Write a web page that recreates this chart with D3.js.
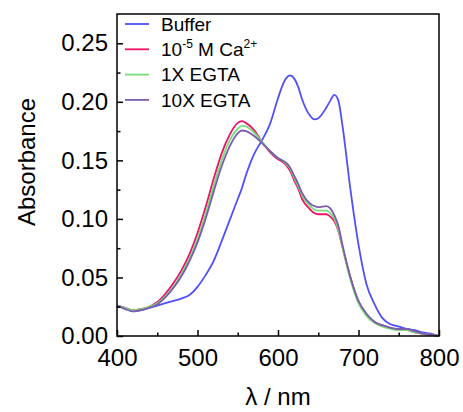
<!DOCTYPE html>
<html>
<head>
<meta charset="utf-8">
<script src="https://cdn.jsdelivr.net/npm/d3@7"></script>
<style>
  body { margin: 0; background: #fff; }
  text { font-family: "Liberation Sans", Arial, sans-serif; fill: #000; }
</style>
</head>
<body>
<svg id="chart"></svg>
<script>
// UV-vis absorbance spectra, four conditions
const width = 463;
const height = 412;
const margin = { top: 14, right: 24, bottom: 76, left: 117 };

const wavelengths = [400, 410, 420, 430, 440, 450, 460, 470, 480, 490, 500, 510, 520, 530, 540, 550, 555, 560,
  570, 580, 590, 600, 605, 610, 615, 620, 625, 630, 640, 645, 650, 660, 665, 670, 675, 680, 690, 700,
  710, 720, 730, 740, 750, 760, 770, 780, 790, 800];

const buffer = [0.026, 0.024, 0.021, 0.022, 0.024, 0.026, 0.028, 0.030, 0.032, 0.035, 0.042, 0.052, 0.064, 0.081,
  0.099, 0.117, 0.126, 0.137, 0.155, 0.167, 0.181, 0.203, 0.213, 0.220, 0.2225, 0.220, 0.213, 0.202, 0.188, 0.185,
  0.186, 0.195, 0.201, 0.206, 0.201, 0.180, 0.125, 0.078, 0.044, 0.027, 0.015, 0.010, 0.008, 0.006, 0.005, 0.003,
  0.002, 0.000];

const calcium = [0.026, 0.024, 0.022, 0.023, 0.025, 0.029, 0.036, 0.045, 0.056, 0.070, 0.088, 0.110, 0.134, 0.156,
  0.172, 0.182, 0.1835, 0.182, 0.176, 0.166, 0.157, 0.151, 0.149, 0.146, 0.141, 0.133, 0.126, 0.117, 0.108, 0.105,
  0.104, 0.104, 0.102, 0.098, 0.090, 0.076, 0.050, 0.029, 0.018, 0.012, 0.009, 0.007, 0.005, 0.005, 0.003, 0.002,
  0.001, 0.000];

const egta1x = [0.026, 0.024, 0.022, 0.023, 0.025, 0.028, 0.034, 0.042, 0.053, 0.066, 0.083, 0.104, 0.128, 0.150,
  0.167, 0.177, 0.1795, 0.179, 0.174, 0.166, 0.158, 0.152, 0.150, 0.147, 0.143, 0.135, 0.128, 0.120, 0.111, 0.108,
  0.107, 0.107, 0.105, 0.100, 0.091, 0.076, 0.048, 0.028, 0.017, 0.011, 0.008, 0.006, 0.005, 0.005, 0.003, 0.002,
  0.001, 0.000];

const egta10x = [0.026, 0.023, 0.021, 0.022, 0.024, 0.027, 0.033, 0.041, 0.051, 0.064, 0.080, 0.100, 0.123, 0.145,
  0.162, 0.173, 0.1755, 0.175, 0.171, 0.165, 0.158, 0.152, 0.150, 0.148, 0.144, 0.137, 0.130, 0.122, 0.113, 0.111,
  0.110, 0.111, 0.109, 0.103, 0.094, 0.078, 0.050, 0.030, 0.019, 0.012, 0.009, 0.007, 0.006, 0.006, 0.004, 0.002,
  0.001, 0.000];

const seriesNames = ["Buffer", "Ca", "1X EGTA", "10X EGTA"];
const seriesValues = [buffer, calcium, egta1x, egta10x];
const colors = ["#5050ff", "#ee1166", "#77dd77", "#7a5cb0"];

const xTicks = [400, 500, 600, 700, 800];
const yTicks = [0, 0.05, 0.10, 0.15, 0.20, 0.25];

const svg = d3.select("#chart")
  .attr("width", width)
  .attr("height", height);

const x = d3.scaleLinear().domain([400, 800]).range([margin.left, width - margin.right]);
const y = d3.scaleLinear().domain([0, 0.275]).range([height - margin.bottom, margin.top]);

// curves
const line = d3.line()
  .x(d => x(d[0]))
  .y(d => y(d[1]))
  .curve(d3.curveMonotoneX);

svg.append("g")
  .selectAll("path")
  .data(seriesValues)
  .join("path")
  .attr("fill", "none")
  .attr("stroke", (d, i) => colors[i])
  .attr("stroke-width", 1.8)
  .attr("d", vals => line(wavelengths.map((w, j) => [w, vals[j]])));

// frame
svg.append("rect")
  .attr("x", x(400)).attr("y", y(0.275))
  .attr("width", x(800) - x(400))
  .attr("height", y(0) - y(0.275))
  .attr("fill", "none")
  .attr("stroke", "#000")
  .attr("stroke-width", 1.5);

// axes, ticks pointing inward
const xAxis = svg.append("g")
  .attr("transform", `translate(0,${y(0)})`)
  .call(d3.axisBottom(x).tickValues(xTicks).tickSize(-6).tickPadding(13).tickFormat(d3.format("d")));
const xMinor = svg.append("g")
  .attr("transform", `translate(0,${y(0)})`)
  .call(d3.axisBottom(x).tickValues(d3.range(450, 800, 100)).tickSize(-3.5).tickFormat(""));

const yAxis = svg.append("g")
  .attr("transform", `translate(${x(400)},0)`)
  .call(d3.axisLeft(y).tickValues(yTicks).tickSize(-6).tickPadding(9).tickFormat(d3.format(".2f")));
const yMinor = svg.append("g")
  .attr("transform", `translate(${x(400)},0)`)
  .call(d3.axisLeft(y).tickValues(d3.range(0.025, 0.275, 0.05)).tickSize(-3.5).tickFormat(""));

[xAxis, xMinor, yAxis, yMinor].forEach(g => {
  g.select(".domain").remove();
  g.selectAll("line").attr("stroke", "#000").attr("stroke-width", 1.5);
  g.selectAll("text").attr("font-size", 24).attr("font-family", "Liberation Sans, Arial, sans-serif").attr("fill", "#000");
});

// axis titles
svg.append("text")
  .attr("x", (x(400) + x(800)) / 2)
  .attr("y", 405)
  .attr("text-anchor", "middle")
  .attr("font-size", 24)
  .text("λ / nm");

svg.append("text")
  .attr("transform", `translate(35,162) rotate(-90)`)
  .attr("text-anchor", "middle")
  .attr("font-size", 24)
  .text("Absorbance");

// legend
const legend = svg.append("g")
  .selectAll("g")
  .data(seriesNames)
  .join("g")
  .attr("transform", (d, i) => `translate(125,${24 + i * 25.3})`);

legend.append("line")
  .attr("x1", 0).attr("x2", 24)
  .attr("stroke", (d, i) => colors[i])
  .attr("stroke-width", 1.8);

legend.append("text")
  .attr("x", 36)
  .attr("dy", "0.36em")
  .attr("font-size", 19)
  .each(function (d) {
    const t = d3.select(this);
    if (d === "Ca") {
      t.append("tspan").text("10");
      t.append("tspan").attr("font-size", 12).attr("dy", -8).text("-5");
      t.append("tspan").attr("dy", 8).text(" M Ca");
      t.append("tspan").attr("font-size", 12).attr("dy", -8).text("2+");
    } else {
      t.text(d);
    }
  });
</script>
</body>
</html>
